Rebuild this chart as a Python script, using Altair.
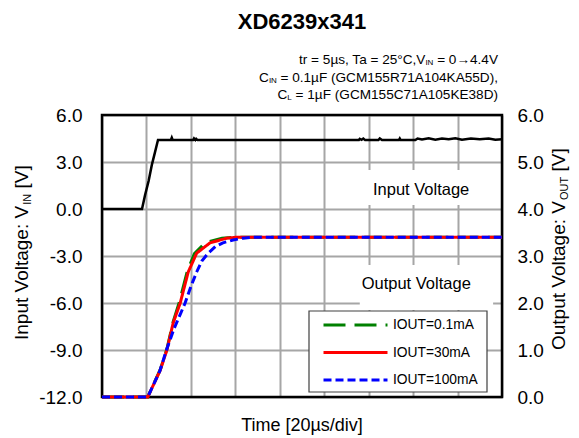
import altair as alt
import pandas as pd

# ---------------- data ----------------
time_in = [0.0, 0.90, 0.97, 1.05, 1.12, 1.19, 1.26, 1.55, 1.57, 1.59, 2.05, 2.07, 2.10, 2.12, 2.15,
           5.78, 5.80, 5.84, 5.88, 5.92, 6.22, 6.25, 6.30, 6.68, 6.70, 6.72, 7.05, 7.10, 7.20, 7.35,
           7.50, 7.65, 7.80, 7.95, 8.10, 8.30, 8.50, 8.70, 8.85, 9.0]
volt_in = [0.0, 0.0, 0.9, 1.8, 2.8, 3.6, 4.4, 4.4, 4.55, 4.4, 4.4, 4.5, 4.4, 4.48, 4.4,
           4.4, 4.48, 4.42, 4.5, 4.4, 4.4, 4.5, 4.4, 4.4, 4.5, 4.4, 4.4, 4.5, 4.44, 4.52,
           4.42, 4.5, 4.45, 4.52, 4.42, 4.5, 4.45, 4.5, 4.42, 4.45]

time_g = [0, 1.03, 1.31, 1.46, 1.60, 1.75, 1.92, 2.08, 2.32, 2.70, 3.00, 9.0]
volt_g = [0, 0, 0.58, 1.02, 1.60, 2.05, 2.68, 3.05, 3.28, 3.38, 3.40, 3.40]
time_r = [0, 1.03, 1.31, 1.46, 1.60, 1.76, 1.94, 2.13, 2.43, 2.81, 3.03, 9.0]
volt_r = [0, 0, 0.57, 1.00, 1.57, 2.00, 2.66, 3.06, 3.28, 3.38, 3.40, 3.40]
time_b = [0, 1.03, 1.30, 1.45, 1.62, 1.87, 2.00, 2.13, 2.25, 2.39, 2.55, 2.72, 2.95, 3.17, 3.40, 9.0]
volt_b = [0, 0, 0.55, 1.00, 1.45, 2.00, 2.35, 2.66, 2.90, 3.06, 3.20, 3.28, 3.34, 3.38, 3.40, 3.40]

series_names = ["IOUT=0.1mA", "IOUT=30mA", "IOUT=100mA"]
series_colors = ["#008000", "#FF0000", "#0000FF"]
series_dash = [[22, 9], [1, 0], [8, 4]]

x_ticks = [0, 1, 2, 3, 4, 5, 6, 7, 8, 9]
yl_ticks = [-12, -9, -6, -3, 0, 3, 6]
yr_ticks = [0, 1, 2, 3, 4, 5, 6]

label_text = ["Input Voltage", "Output Voltage"]
label_x = [7.18, 7.07]
label_y = [1.21, -4.79]
box_x0 = [5.87, 5.80]
box_x1 = [8.80, 8.80]
box_y0 = [0.26, -6.45]
box_y1 = [2.49, -3.57]

# ---------------- build ----------------
FONT = "Liberation Sans"
W, H = 400, 282
GRID = "#A6A6A6"

df_in = pd.DataFrame({"t": time_in, "v": volt_in})
df_out = pd.concat([
    pd.DataFrame({"t": time_g, "v": volt_g, "s": series_names[0]}),
    pd.DataFrame({"t": time_r, "v": volt_r, "s": series_names[1]}),
    pd.DataFrame({"t": time_b, "v": volt_b, "s": series_names[2]}),
], ignore_index=True)
df_lab = pd.DataFrame({"txt": label_text, "x": label_x, "y": label_y})
df_box = pd.DataFrame({"x0": box_x0, "x1": box_x1, "y0": box_y0, "y1": box_y1})
df_frame = pd.DataFrame({"x0": [min(x_ticks)], "x1": [max(x_ticks)],
                         "y0": [min(yl_ticks)], "y1": [max(yl_ticks)]})

x_scale = alt.Scale(domain=[min(x_ticks), max(x_ticks)], nice=False, zero=False)
yl_scale = alt.Scale(domain=[min(yl_ticks), max(yl_ticks)], nice=False, zero=False)
yr_scale = alt.Scale(domain=[min(yr_ticks), max(yr_ticks)], nice=False, zero=False)

x_axis = alt.Axis(values=x_ticks, labels=False, ticks=False, domain=False, grid=True,
                  gridColor=GRID, gridWidth=2, title=None)
yl_axis = alt.Axis(values=yl_ticks, labelExpr="replace(format(datum.value, '.1f'), '\u2212', '-')",
                   labelFontSize=19, labelColor="black", labelFont=FONT, ticks=False,
                   domain=False, grid=True, gridColor=GRID, gridWidth=2, labelPadding=20,
                   title=None, labelOverlap=False, labelFlush=False)
yr_axis = alt.Axis(orient="right", values=yr_ticks, format=".1f", labelFontSize=19,
                   labelColor="black", labelFont=FONT, ticks=False, domain=False, grid=False,
                   labelPadding=15, title=None, labelOverlap=False, labelFlush=False)

def X(f):
    return alt.X(f, type="quantitative", scale=x_scale, axis=x_axis)

def YL(f):
    return alt.Y(f, type="quantitative", scale=yl_scale, axis=yl_axis)

boxes = alt.Chart(df_box).mark_rect(color="white").encode(
    x=X("x0"), x2="x1", y=YL("y0"), y2="y1")

frame = alt.Chart(df_frame).mark_rect(filled=False, stroke="black", strokeWidth=2.5).encode(
    x=X("x0"), x2="x1", y=YL("y0"), y2="y1")

legend_box = alt.Chart(df_frame).mark_rect(fill="white", stroke="#404040", strokeWidth=1.2).encode(
    x=alt.value(207), x2=alt.value(385), y=alt.value(196), y2=alt.value(277))

input_line = alt.Chart(df_in).mark_line(color="black", strokeWidth=2.5).encode(
    x=X("t"), y=YL("v"))

labels = alt.Chart(df_lab).mark_text(fontSize=16.5, font=FONT, color="black").encode(
    x=X("x"), y=YL("y"), text="txt:N")

def txt(s, x, y, size=13.6, align="left", weight="normal", angle=0, baseline="middle"):
    return alt.Chart(df_frame).mark_text(
        text=s, fontSize=size, font=FONT, align=align, fontWeight=weight, angle=angle,
        baseline=baseline, color="black").encode(x=alt.value(x), y=alt.value(y))

texts = [
    txt("XD6239x341", 200, -93, size=22, align="center", weight="bold"),
    # line 1
    txt(" = 0\u21924.4V", 396, -55, align="right"),
    txt("IN", 331.4, -52, size=8, align="right"),
    txt("tr = 5\u00b5s, Ta = 25\u00b0C,V", 323.4, -55, align="right"),
    # line 2
    txt(" = 0.1\u00b5F (GCM155R71A104KA55D),", 396, -37.5, align="right"),
    txt("IN", 174.9, -34.5, size=8, align="right"),
    txt("C", 166.9, -37.5, align="right"),
    # line 3
    txt(" = 1\u00b5F (GCM155C71A105KE38D)", 396, -20, align="right"),
    txt("L", 189.7, -17, size=8, align="right"),
    txt("C", 185.3, -20, align="right"),
    # left axis title
    txt("Input Voltage: V", -74.5, 225, size=19, angle=270, baseline="alphabetic"),
    txt("IN", -71.5, 89.8, size=11, angle=270, baseline="alphabetic"),
    txt("[V]", -74.5, 73.5, size=19, angle=270, baseline="alphabetic"),
    # right axis title
    txt("Output Voltage: V", 463, 235, size=19, angle=270, baseline="alphabetic"),
    txt("OUT", 466, 85, size=11, angle=270, baseline="alphabetic"),
    txt("[V]", 463, 56.5, size=19, angle=270, baseline="alphabetic"),
    # x title
    txt("Time  [20\u00b5s/div]", 200, 311, size=18, align="center"),
]

input_group = alt.layer(boxes, frame, legend_box, input_line, labels, *texts)

legend_cfg = dict(orient="none", legendX=220, legendY=202, title=None,
                  symbolType="stroke", symbolSize=4096, symbolStrokeWidth=3,
                  labelFontSize=13.8, labelFont=FONT, labelColor="black",
                  labelOffset=4, clipHeight=16, rowPadding=11.5, padding=0, symbolOffset=0)
color_enc = alt.Color("s:N", scale=alt.Scale(domain=series_names, range=series_colors),
                      legend=alt.Legend(**legend_cfg))
dash_enc = alt.StrokeDash("s:N", scale=alt.Scale(domain=series_names, range=series_dash),
                          legend=alt.Legend(**legend_cfg))

out_layers = []
for name in series_names:
    out_layers.append(
        alt.Chart(df_out).transform_filter(alt.datum.s == name).mark_line(strokeWidth=3).encode(
            x=X("t"),
            y=alt.Y("v:Q", scale=yr_scale, axis=yr_axis),
            color=color_enc, strokeDash=dash_enc))
output_group = alt.layer(*out_layers)

chart = alt.layer(input_group, output_group).resolve_scale(y="independent").properties(
    width=W, height=H,
    padding={"left": 94, "top": 107, "right": 69, "bottom": 40},
    autosize=alt.AutoSizeParams(type="none"),
).configure(font=FONT).configure_view(strokeWidth=0)

chart.save("out.html", embed_options={"renderer": "svg", "actions": False})
